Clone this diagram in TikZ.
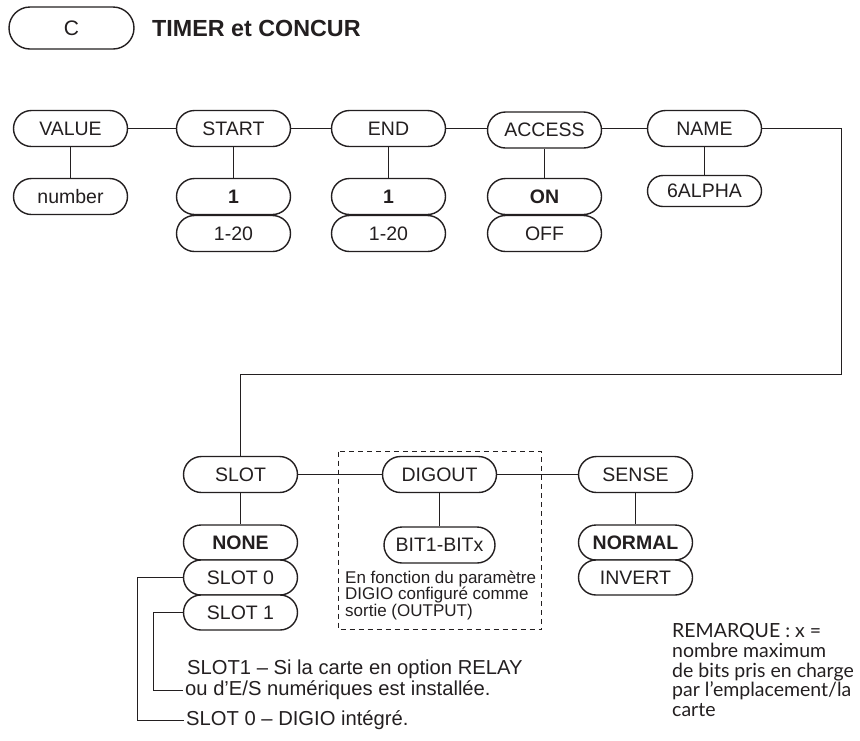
\documentclass[tikz,border=0pt]{standalone}
\usepackage{fontspec}
\setmainfont{Liberation Sans}
\newfontfamily\remfont{Lato}
\usetikzlibrary{shapes.misc}
\definecolor{ink}{RGB}{35,31,32}
\begin{document}
\begin{tikzpicture}[x=1pt,y=-1pt,
  opt/.style={draw=ink, fill=white, rounded rectangle, minimum width=116pt, minimum height=36pt,
    inner sep=1pt, font=\fontsize{19.5}{21}\selectfont, text=ink, line width=1.4pt},
  sel/.style={opt, font=\fontsize{19.5}{21}\selectfont\bfseries},
  wire/.style={draw=ink, line width=1.4pt},
  note/.style={font=\fontsize{20.2}{22}\selectfont, text=ink, anchor=base west, inner sep=2pt,
    text height=13pt, text depth=4pt},
  small/.style={font=\fontsize{17}{17}\selectfont, text=ink, anchor=base west, inner sep=0pt},
  rem/.style={font=\remfont\fontsize{19.5}{20}\selectfont, text=ink, anchor=base west, inner sep=0pt}]
\useasboundingbox (0,0) rectangle (860,740);

% header
\node[opt, minimum width=127pt, minimum height=42pt, font=\fontsize{21}{23}\selectfont] (c) at (71.5,28) {C};
\node[anchor=west, inner sep=0pt, text=ink, font=\fontsize{23.3}{25}\selectfont\bfseries] (title) at (152,28) {TIMER et CONCUR};

% top row
\node[opt] (value) at (70.5,128.5) {VALUE};
\node[opt] (start) at (233.5,128.5) {START};
\node[opt] (end) at (388.5,128.5) {END};
\node[opt] (access) at (544.5,130) {ACCESS};
\node[opt] (name) at (704.5,128.5) {NAME};

\node[opt] (number) at (70.5,196.5) {number};
\node[sel] (s1) at (233.5,196.5) {1};
\node[opt] (s20) at (233.5,233.5) {1-20};
\node[sel] (e1) at (388.5,196.5) {1};
\node[opt] (e20) at (388.5,233.5) {1-20};
\node[sel] (on) at (544.5,196.5) {ON};
\node[opt] (off) at (544.5,233.5) {OFF};
\node[opt, minimum height=31pt] (alpha) at (704.5,191) {6ALPHA};

\draw[wire] (value.east) -- (start.west);
\draw[wire] (start.east) -- (end.west);
\draw[wire] (end.east) -- (access.west |- end.east);
\draw[wire] (access.east |- name.west) -- (name.west);
\draw[wire] (value.south) -- (number.north);
\draw[wire] (start.south) -- (s1.north);
\draw[wire] (end.south) -- (e1.north);
\draw[wire] (access.south) -- (on.north);
\draw[wire] (name.south) -- (alpha.north);

% bottom row
\node[opt] (slot) at (240.5,474.5) {SLOT};
\node[opt] (digout) at (439.5,474.5) {DIGOUT};
\node[opt] (sense) at (635.5,474.5) {SENSE};
\node[sel, minimum height=35pt] (none) at (240.5,542.5) {NONE};
\node[opt, minimum height=35pt] (slot0) at (240.5,577.5) {SLOT 0};
\node[opt, minimum height=35pt] (slot1) at (240.5,612.5) {SLOT 1};
\node[opt, minimum width=113pt] (bit) at (439.5,545) {BIT1-BITx};
\node[sel, minimum height=35pt] (normal) at (635.5,542.5) {NORMAL};
\node[opt, minimum height=35pt] (invert) at (635.5,577.5) {INVERT};

\coordinate (corner1) at (841.5,374.5);
\draw[wire] (name.east) -| (corner1) -| (slot.north);

\draw[wire] (slot.east) -- (digout.west);
\draw[wire] (digout.east) -- (sense.west);
\draw[wire] (slot.south) -- (none.north);
\draw[wire] (digout.south) -- (bit.north);
\draw[wire] (sense.south) -- (normal.north);

% dashed box
\draw[ink, line width=1pt, dash pattern=on 5pt off 4pt] (338.5,451.5) rectangle (541.5,629.5);
\node[small] (d1) at (345,583) {En fonction du paramètre};
\node[small] (d2) at (345,599.5) {DIGIO configuré comme};
\node[small] (d3) at (345,616) {sortie (OUTPUT)};

% slot notes
\node[note] (n1) at (185,674) {SLOT1 – Si la carte en option RELAY};
\node[note] (n2) at (183,695) {ou d’E/S numériques est installée.};
\node[note] (n3) at (184,725) {SLOT 0 – DIGIO intégré.};
\coordinate (k1) at (153.5,0);
\coordinate (k0) at (137.5,0);
\draw[wire] (slot1.west) -- (slot1.west -| k1) |- (n2.west);
\draw[wire] (slot0.west) -- (slot0.west -| k0) |- (n3.west);

% remark
\node[rem] (r1) at (672,637) {REMARQUE : x =};
\node[rem] (r2) at (672,657) {nombre maximum};
\node[rem] (r3) at (672,677) {de bits pris en charge};
\node[rem] (r4) at (672,696.5) {par l’emplacement/la};
\node[rem] (r5) at (672,716) {carte};
\end{tikzpicture}
\end{document}
